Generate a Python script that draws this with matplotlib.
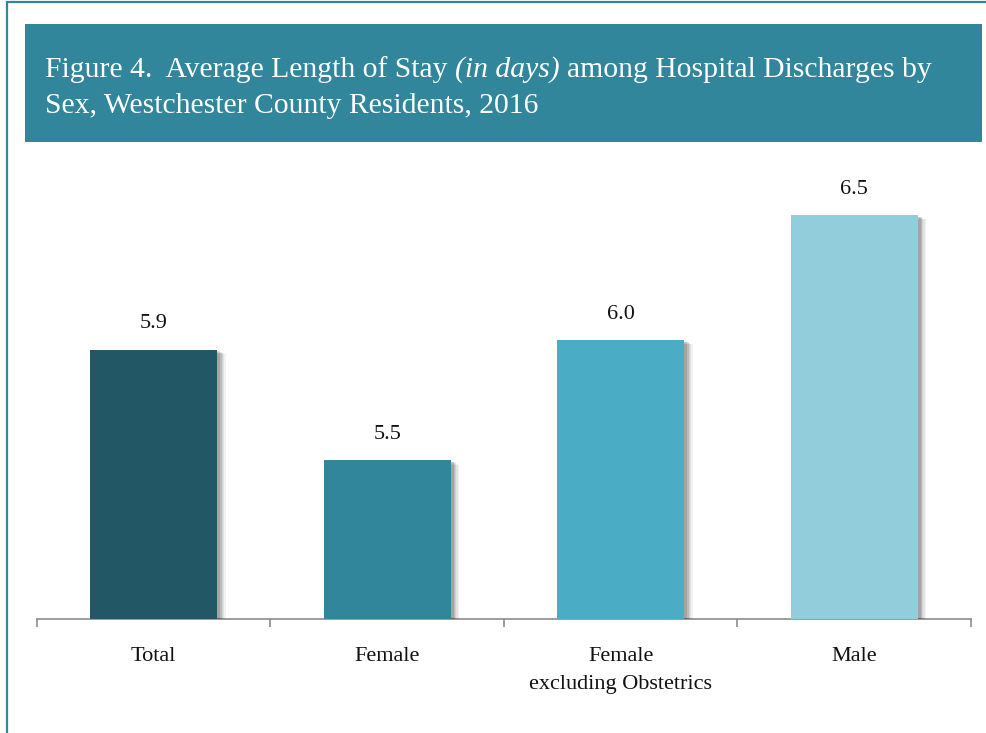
import matplotlib
matplotlib.use("Agg")
import matplotlib.pyplot as plt
import matplotlib.patheffects as pe
from matplotlib.patches import Rectangle

# data
categories = ["Total", "Female", "Female\nexcluding Obstetrics", "Male"]
avg_stay = [5.92, 5.46, 5.96, 6.48]
bar_colors = ["#225866", "#31869B", "#4BACC6", "#92CDDC"]

teal = "#31869B"
serif = ["Liberation Serif", "DejaVu Serif"]
plt.rcParams["font.family"] = serif

W, H = 987, 733
fig = plt.figure(figsize=(W / 100, H / 100), dpi=100)

# outer frame (only top and left edges are visible in the crop)
fig.add_artist(Rectangle((7.5 / W, -0.1), 1.2, 1.1 - 2.5 / H, transform=fig.transFigure,
                         fill=False, edgecolor=teal, linewidth=1.6))

# title banner
fig.add_artist(Rectangle((25 / W, 1 - 142 / H), 957 / W, 118 / H, transform=fig.transFigure,
                         facecolor=teal, edgecolor="none"))

title_size = 21.3
renderer = fig.canvas.get_renderer()
x = 45 / W
y1 = 1 - 77 / H
parts = [("Figure 4.  Average Length of Stay", "normal"),
         ("(in days)", "italic"),
         ("among Hospital Discharges by", "normal")]
space = fig.text(0, 0, "a a", fontsize=title_size)
aa = fig.text(0, 0, "aa", fontsize=title_size)
gap = (space.get_window_extent(renderer).width - aa.get_window_extent(renderer).width) / W
space.remove()
aa.remove()
for txt, style in parts:
    t = fig.text(x, y1, txt, color="white", fontsize=title_size, style=style, va="baseline")
    x += t.get_window_extent(renderer).width / W + gap
fig.text(45 / W, 1 - 113 / H, "Sex, Westchester County Residents, 2016", color="white",
         fontsize=title_size, va="baseline")

# bars
ax = fig.add_axes([37 / W, 1 - 619 / H, 934 / W, 459 / H])
xs = range(len(categories))
bars = ax.bar(xs, avg_stay, width=0.545, color=bar_colors, zorder=3)
shadow = [pe.SimplePatchShadow(offset=(o, -o * 0.5), shadow_rgbFace="#000000", alpha=a)
          for o, a in [(6, 0.05), (5, 0.06), (4, 0.08), (3, 0.1), (2, 0.12)]]
for b in bars:
    b.set_path_effects(shadow + [pe.Normal()])

for xi, v in zip(xs, avg_stay):
    ax.annotate(f"{v:.1f}", (xi, v), xytext=(0, 12), textcoords="offset points",
                ha="center", va="bottom", fontsize=16, color="#111111")

ax.set_ylim(4.8, 6.71)
ax.set_xlim(-0.5, len(categories) - 0.5)
ax.set_yticks([])
ax.set_xticks(xs)
ax.set_xticklabels(categories, fontsize=16, linespacing=1.65, color="#111111")
ax.set_xticks([i - 0.5 for i in range(len(categories) + 1)], minor=True)
ax.tick_params(axis="x", which="major", length=0, pad=20)
ax.tick_params(axis="x", which="minor", length=6, width=1.2, color="#8C8C8C")
for side in ["top", "right", "left"]:
    ax.spines[side].set_visible(False)
ax.spines["bottom"].set_color("#8C8C8C")
ax.spines["bottom"].set_linewidth(1.2)

fig.savefig("out.png", dpi=100)
